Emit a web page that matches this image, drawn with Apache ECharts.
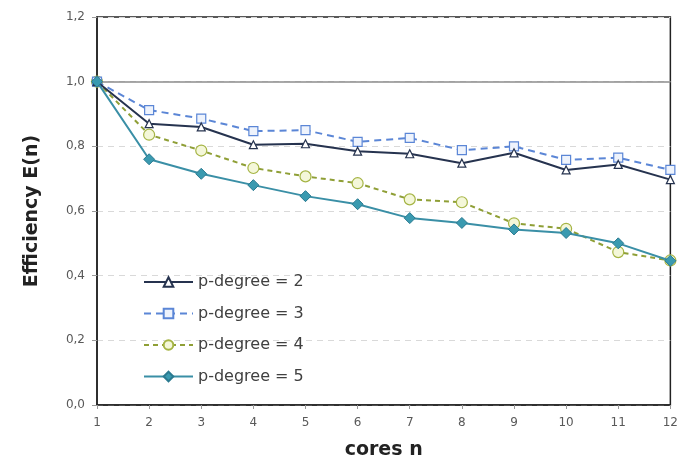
<!DOCTYPE html>
<html>
<head>
<meta charset="utf-8">
<script src="https://cdn.jsdelivr.net/npm/echarts@6/dist/echarts.min.js"></script>
<style>
  html, body { margin: 0; padding: 0; background: #fff; }
  #chart { width: 681px; height: 471px; }
</style>
</head>
<body>
<div id="chart"></div>
<script>
// efficiency E(n) over number of cores, one series per p-degree
const cores = [1, 2, 3, 4, 5, 6, 7, 8, 9, 10, 11, 12];
const pDeg2 = [1.0, 0.87, 0.86, 0.805, 0.808, 0.785, 0.777, 0.748, 0.78, 0.727, 0.744, 0.697];
const pDeg3 = [1.0, 0.912, 0.886, 0.847, 0.85, 0.814, 0.826, 0.788, 0.8, 0.758, 0.765, 0.727];
const pDeg4 = [1.0, 0.836, 0.787, 0.733, 0.707, 0.686, 0.636, 0.627, 0.562, 0.545, 0.473, 0.447];
const pDeg5 = [1.0, 0.76, 0.715, 0.68, 0.646, 0.621, 0.578, 0.563, 0.543, 0.532, 0.5, 0.446];
const yTicks = [0, 0.2, 0.4, 0.6, 0.8, 1.0, 1.2];

const FONT = "DejaVu Sans";
const pair = (ys) => cores.map((c, i) => [c, ys[i]]);

const chart = echarts.init(document.getElementById("chart"));

chart.setOption({
  animation: false,
  backgroundColor: "#fff",
  textStyle: { fontFamily: FONT },
  grid: {
    left: 97, right: 8, top: 17, bottom: 66,
    show: true, borderColor: "#222", borderWidth: 1.5,
  },
  legend: {
    orient: "vertical",
    left: 138,
    top: 269,
    itemWidth: 49,
    itemHeight: 12,
    itemGap: 15.5,
    textStyle: { color: "#404040", fontSize: 16, fontFamily: FONT },
    data: ["p-degree = 2", "p-degree = 3", "p-degree = 4", "p-degree = 5"],
  },
  xAxis: {
    type: "value",
    min: 1, max: 12, interval: 1,
    name: "cores n",
    nameLocation: "middle",
    nameGap: 36,
    nameTextStyle: { color: "#222", fontSize: 19, fontWeight: "bold", fontFamily: FONT },
    axisLine: { lineStyle: { color: "#222", width: 1.5 } },
    axisTick: { show: true, length: 4, lineStyle: { color: "#999" } },
    axisLabel: { color: "#595959", fontSize: 12, margin: 12 },
    splitLine: { show: false },
  },
  yAxis: {
    type: "value",
    min: yTicks[0], max: yTicks[yTicks.length - 1], interval: 0.2,
    name: "Efficiency E(n)",
    nameLocation: "middle",
    nameGap: 55,
    nameTextStyle: { color: "#222", fontSize: 19, fontWeight: "bold", fontFamily: FONT },
    axisLine: { lineStyle: { color: "#222", width: 1.5 } },
    axisTick: { show: true, length: 5, lineStyle: { color: "#999" } },
    axisLabel: {
      color: "#595959", fontSize: 12, margin: 12,
      formatter: (v) => v.toFixed(1).replace(".", ","),
    },
    splitLine: { show: true, lineStyle: { color: "#d9d9d9", type: [6, 5], width: 1 } },
  },
  series: [
    {
      name: "p-degree = 2",
      type: "line",
      data: pair(pDeg2),
      symbol: "triangle",
      symbolSize: 8,
      lineStyle: { color: "#26334f", width: 2 },
      itemStyle: { color: "#fff", borderColor: "#26334f", borderWidth: 1.2 },
      markLine: {
        silent: true,
        symbol: "none",
        label: { show: false },
        lineStyle: { color: "#8c8c8c", type: "solid", width: 1.5 },
        data: [{ yAxis: 1.0 }],
      },
      z: 4,
    },
    {
      name: "p-degree = 3",
      type: "line",
      data: pair(pDeg3),
      symbol: "rect",
      symbolSize: 9,
      lineStyle: { color: "#5b86d6", width: 2, type: [7, 5] },
      itemStyle: { color: "#eef3fc", borderColor: "#5b86d6", borderWidth: 1.2 },
      z: 3,
    },
    {
      name: "p-degree = 4",
      type: "line",
      data: pair(pDeg4),
      symbol: "circle",
      symbolSize: 11,
      lineStyle: { color: "#8f9f36", width: 2, type: [5, 4] },
      itemStyle: { color: "#f4f7d9", borderColor: "#a5b444", borderWidth: 1.2 },
      z: 2,
    },
    {
      name: "p-degree = 5",
      type: "line",
      data: pair(pDeg5),
      symbol: "diamond",
      symbolSize: 11,
      lineStyle: { color: "#3a8fa6", width: 2 },
      itemStyle: { color: "#3a9ab0", borderColor: "#2a7a90", borderWidth: 1 },
      z: 5,
    },
  ],
});
</script>
</body>
</html>
